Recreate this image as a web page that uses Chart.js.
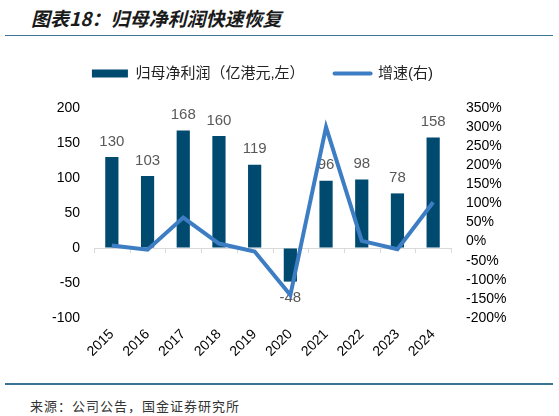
<!DOCTYPE html>
<html>
<head>
<meta charset="utf-8">
<script src="https://cdn.jsdelivr.net/npm/chart.js@4/dist/chart.umd.min.js"></script>
<style>
  html, body { margin: 0; padding: 0; background: #fff; }
  body { width: 559px; height: 416px; position: relative; overflow: hidden; font-family: "Liberation Sans", "Noto Sans CJK SC", sans-serif; }
  .title { position: absolute; left: 31px; top: 4px; font: italic bold 19px "Noto Sans CJK SC", sans-serif; color: #1a1a1a; white-space: nowrap; }
  .rule-top { position: absolute; left: 5px; top: 35px; width: 548px; height: 1px; background: #3a7393; }
  .rule-bottom { position: absolute; left: 5px; top: 383px; width: 548px; height: 2px; background: #3a7393; }
  .source { position: absolute; left: 30px; top: 396px; font: 13px "Noto Sans CJK SC", sans-serif; letter-spacing: 1px; color: #333; white-space: nowrap; }
  #wrap { position: absolute; left: 0; top: 36px; width: 559px; height: 346px; }
</style>
</head>
<body>
<div class="title">图表18：归母净利润快速恢复</div>
<div class="rule-top"></div>
<div id="wrap"><canvas id="chart" width="559" height="346"></canvas></div>
<div class="rule-bottom"></div>
<div class="source">来源：公司公告，国金证券研究所</div>
<script>
const years = ['2015', '2016', '2017', '2018', '2019', '2020', '2021', '2022', '2023', '2024'];
const profit = [130, 103, 168, 160, 119, -48, 96, 98, 78, 158];
const growth = [-10, -21, 63, -5, -26, -140, 300, 2, -20, 103];
const leftTicks = [-100, 200, 50];
const rightTicks = [-200, 350, 50];

const BAR = '#004a70';
const LINE = '#3d7dc3';

Chart.defaults.font.family = '"Liberation Sans", "Noto Sans CJK SC", sans-serif';
Chart.defaults.color = '#000';

// value labels on top of the bars (drawn before the line so the line sits over them)
const barLabels = {
    id: 'barLabels',
    afterDatasetDraw(chart, args) {
        if (args.index !== 0) return;
        const ctx = chart.ctx;
        ctx.save();
        ctx.font = '15px "Liberation Sans", sans-serif';
        ctx.fillStyle = '#595959';
        ctx.textAlign = 'center';
        args.meta.data.forEach((bar, i) => {
            const v = profit[i];
            if (v >= 0) {
                ctx.textBaseline = 'bottom';
                ctx.fillText(v, bar.x, bar.y - 8);
            } else {
                ctx.textBaseline = 'top';
                ctx.fillText(v, bar.x, bar.y + 9);
            }
        });
        ctx.restore();
    }
};

// small tick marks between categories under the zero line
const zeroTicks = {
    id: 'zeroTicks',
    beforeDatasetsDraw(chart) {
        const x = chart.scales.x;
        const y0 = chart.scales.y.getPixelForValue(0);
        const step = x.getPixelForValue(1) - x.getPixelForValue(0);
        const ctx = chart.ctx;
        ctx.save();
        ctx.strokeStyle = '#d9d9d9';
        ctx.lineWidth = 1;
        ctx.beginPath();
        for (let i = 0; i <= years.length; i++) {
            const px = Math.round(x.getPixelForValue(0) - step / 2 + i * step) + 0.5;
            ctx.moveTo(px, y0);
            ctx.lineTo(px, y0 + 5);
        }
        ctx.stroke();
        ctx.restore();
    }
};

new Chart(document.getElementById('chart'), {
    data: {
        labels: years,
        datasets: [{
            type: 'bar',
            label: '归母净利润（亿港元,左）',
            data: profit,
            backgroundColor: BAR,
            borderWidth: 0,
            yAxisID: 'y',
            order: 1,
            categoryPercentage: 1,
            barPercentage: 0.37,
        }, {
            type: 'line',
            label: '增速(右)',
            data: growth,
            borderColor: LINE,
            backgroundColor: LINE,
            borderWidth: 4,
            pointRadius: 0,
            tension: 0,
            yAxisID: 'y1',
            order: 0,
        }],
    },
    options: {
        responsive: false,
        animation: false,
        layout: { padding: { top: 0, left: 0, right: 34, bottom: 0 } },
        plugins: {
            tooltip: { enabled: false },
            // empty title used only as a gap between legend and plot
            title: {
                display: true,
                text: ' ',
                weight: 0,
                font: { size: 1, lineHeight: 1 },
                padding: { top: 0, bottom: 16 },
            },
            legend: {
                position: 'top',
                labels: {
                    usePointStyle: true,
                    pointStyleWidth: 36,
                    boxHeight: 8,
                    padding: 30,
                    color: '#222',
                    font: { size: 15 },
                    generateLabels(chart) {
                        const items = Chart.defaults.plugins.legend.labels.generateLabels(chart);
                        items.forEach(it => {
                            it.pointStyle = it.datasetIndex === 1 ? 'line' : 'rect';
                            if (it.datasetIndex === 1) it.lineCap = 'round';
                        });
                        return items.sort((a, b) => a.datasetIndex - b.datasetIndex);
                    },
                },
            },
        },
        scales: {
            x: {
                grid: { display: false, drawTicks: false },
                border: { display: false },
                ticks: { minRotation: 45, maxRotation: 45, padding: 8, font: { size: 14 }, color: '#000' },
                afterFit(scale) { scale.height = 64; },
            },
            y: {
                position: 'left',
                min: leftTicks[0],
                max: leftTicks[1],
                ticks: { stepSize: leftTicks[2], padding: 14, font: { size: 14 }, color: '#000', autoSkip: false },
                grid: {
                    drawTicks: false,
                    color: ctx => (ctx.tick && ctx.tick.value === 0 ? '#d9d9d9' : 'rgba(0,0,0,0)'),
                },
                border: { display: false },
                afterFit(scale) { scale.width = 94; },
            },
            y1: {
                position: 'right',
                min: rightTicks[0],
                max: rightTicks[1],
                ticks: { stepSize: rightTicks[2], padding: 15, font: { size: 14 }, color: '#000', autoSkip: false, callback: v => v + '%' },
                grid: { display: false, drawTicks: false },
                border: { display: false },
                afterFit(scale) { scale.width = 74; },
            },
        },
    },
    plugins: [zeroTicks, barLabels],
});
</script>
</body>
</html>
